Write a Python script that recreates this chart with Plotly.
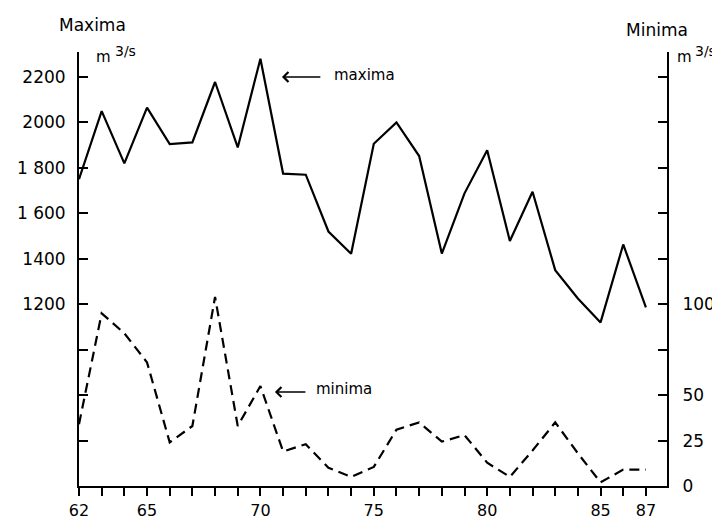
import plotly.graph_objects as go

# ---------------- data ----------------
years = list(range(62, 88))
maxima = [1750, 2050, 1820, 2065, 1905, 1912, 2178, 1890, 2280, 1775,
          1770, 1520, 1422, 1906, 2000, 1852, 1423, 1688, 1878, 1478,
          1695, 1350, 1225, 1120, 1463, 1186]
minima = [34, 95, 84, 68, 24, 33, 104, 33, 55, 19,
          23, 10, 5, 10.5, 31, 35, 24.4, 28, 12.8, 5,
          19.5, 35, 18, 2, 9, 9]

left_tickvals = [600, 800, 1000, 1200, 1400, 1600, 1800, 2000, 2200, 2310]
left_ticktext = ["", "", "", "1200", "1400", "1 600", "1 800", "2000", "2200", ""]
right_tickvals = [0, 25, 50, 75, 100, 125, 150, 175, 200, 225, 238.75]
right_ticktext = ["0", "25", "50", "", "100", "", "", "", "", "", ""]
x_labelled = [62, 65, 70, 75, 80, 85, 87]
x_ticktext = [str(y) if y in x_labelled else "" for y in years]

FONT = "DejaVu Sans"

# The page body adds an 8px offset; work in screen pixels and compensate.
OFF = 8
FW, FH = 720 - OFF, 522 - OFF
L, R, T, B = 79, 667, 52, 486          # plot area in screen pixels
W, H = R - L, B - T


def px(x):
    return (x - L) / W


def py(y):
    return (B - y) / H


fig = go.Figure()
fig.add_trace(go.Scatter(x=years, y=maxima, mode="lines", name="maxima",
                         line=dict(color="black", width=2.2)))
fig.add_trace(go.Scatter(x=years, y=minima, mode="lines", name="minima",
                         yaxis="y2",
                         line=dict(color="black", width=2.2, dash="10px,6px")))

C = dict(xanchor="center", yanchor="middle", showarrow=False)
ann = []
# titles and units
ann.append(dict(text="Maxima", x=px(92), y=py(25), xref="paper", yref="paper",
                font=dict(size=17), **C))
ann.append(dict(text="Minima", x=px(657), y=py(30), xref="paper", yref="paper",
                font=dict(size=17), **C))
for mx, sx in [(103, 125), (684, 705)]:
    ann.append(dict(text="m", x=px(mx), y=py(57), xref="paper", yref="paper",
                    font=dict(size=15), **C))
    ann.append(dict(text="3/s", x=px(sx), y=py(51), xref="paper", yref="paper",
                    font=dict(size=14), **C))

# arrows + labels
ann.append(dict(x=70.95, y=2200, ax=72.71, ay=2200, xref="x", yref="y",
                axref="x", ayref="y", text="", showarrow=True,
                arrowhead=4, arrowsize=1.2, arrowwidth=1.6, arrowcolor="black"))
ann.append(dict(text="maxima", x=74.57, y=2210, xref="x", yref="y",
                font=dict(size=15), **C))
ann.append(dict(x=70.64, y=51.7, ax=72.05, ay=51.7, xref="x", yref="y2",
                axref="x", ayref="y2", text="", showarrow=True,
                arrowhead=4, arrowsize=1.2, arrowwidth=1.6, arrowcolor="black"))
ann.append(dict(text="minima", x=73.68, y=53.3, xref="x", yref="y2",
                font=dict(size=15), **C))

fig.update_layout(
    width=FW, height=FH,
    margin=dict(l=L - OFF, r=FW - (R - OFF), t=T - OFF, b=FH - (B - OFF),
                pad=0, autoexpand=False),
    paper_bgcolor="white", plot_bgcolor="white",
    showlegend=False,
    font=dict(family=FONT, size=17, color="black"),
    annotations=ann,
    xaxis=dict(range=[62, 87.93], tickvals=years, ticktext=x_ticktext,
               ticks="outside", ticklen=8, tickwidth=1.5, tickcolor="black",
               showline=True, linecolor="black", linewidth=2,
               showgrid=False, zeroline=False, ticklabelstandoff=1,
               tickfont=dict(size=16), automargin=False),
    yaxis=dict(range=[400, 2310], tickvals=left_tickvals, ticktext=left_ticktext,
               ticks="inside", ticklen=9, tickwidth=1.5, tickcolor="black",
               showline=True, linecolor="black", linewidth=2,
               showgrid=False, zeroline=False, ticklabelstandoff=8,
               tickfont=dict(size=17), automargin=False),
    yaxis2=dict(range=[0, 238.75], tickvals=right_tickvals, ticktext=right_ticktext,
                overlaying="y", side="right",
                ticks="inside", ticklen=9, tickwidth=1.5, tickcolor="black",
                showline=True, linecolor="black", linewidth=2,
                showgrid=False, zeroline=False, ticklabelstandoff=10,
                tickfont=dict(size=17), automargin=False),
)

fig.write_html("out.html")
